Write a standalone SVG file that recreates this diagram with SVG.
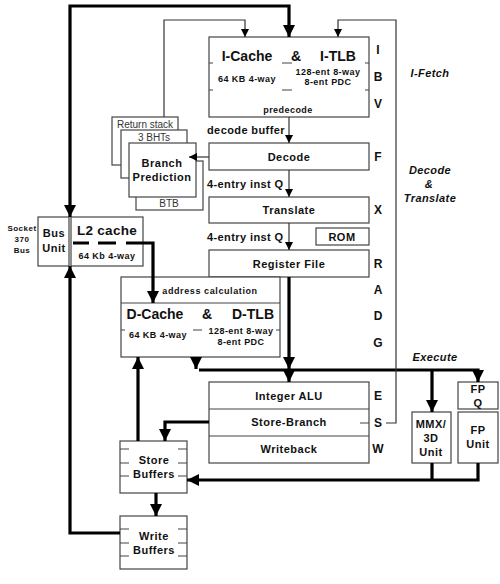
<svg xmlns="http://www.w3.org/2000/svg" width="500" height="584" viewBox="0 0 500 584">
<defs>
<marker id="ah" markerUnits="userSpaceOnUse" markerWidth="12" markerHeight="12" viewBox="0 0 12 12" refX="12" refY="6" orient="auto-start-reverse"><path d="M0,0 L12,6 L0,12 z" fill="#000"/></marker>
<marker id="as" markerUnits="userSpaceOnUse" markerWidth="8" markerHeight="8" viewBox="0 0 8 8" refX="8" refY="4" orient="auto-start-reverse"><path d="M0,0 L8,4 L0,8 z" fill="#000"/></marker>
<style>
.box{fill:#fff;stroke:#444;stroke-width:1.2}
.tk{stroke:#444;stroke-width:1.2;fill:none}
.thick{fill:none;stroke:#000;stroke-width:3.2}
.thin{fill:none;stroke:#333;stroke-width:1.2}
text{font-family:"Liberation Sans",Arial,sans-serif;fill:#111;font-weight:bold}
.big{font-size:14px;text-anchor:middle}
.mid{font-size:11px;text-anchor:middle;letter-spacing:0.5px}
.lab{font-size:11px;letter-spacing:0.4px}
.sm{font-size:9px;text-anchor:middle;letter-spacing:0.45px}
.st{font-size:12px;text-anchor:middle}
.it{font-size:11px;text-anchor:middle;font-style:italic;letter-spacing:0.4px}
.rg{font-size:10px;text-anchor:middle;font-weight:normal;fill:#333}
</style>
</defs>

<g id="icache">
<rect class="box" x="209" y="37" width="160" height="80"/>
<path class="tk" d="M209,63 h4 M209,90 h4 M282,63 h10 M282,90 h10 M365,63 h4 M365,90 h4"/>
<text class="big" x="247" y="61">I-Cache</text>
<text class="big" x="296" y="61">&amp;</text>
<text class="big" x="338" y="61">I-TLB</text>
<text class="sm" x="247" y="82">64 KB 4-way</text>
<text class="sm" x="328" y="75">128-ent 8-way</text>
<text class="sm" x="328" y="85">8-ent PDC</text>
<text class="sm" x="288" y="113">predecode</text>
</g>

<g id="stages">
<text class="st" x="378" y="54">I</text>
<text class="st" x="378" y="81">B</text>
<text class="st" x="378" y="108">V</text>
<text class="st" x="378" y="161">F</text>
<text class="st" x="378" y="214">X</text>
<text class="st" x="378" y="268">R</text>
<text class="st" x="378" y="294">A</text>
<text class="st" x="378" y="320">D</text>
<text class="st" x="378" y="347">G</text>
<text class="st" x="378" y="400">E</text>
<text class="st" x="378" y="427">S</text>
<text class="st" x="378" y="453">W</text>
<text class="it" x="430" y="77">I-Fetch</text>
<text class="it" x="430" y="174">Decode</text>
<text class="it" x="429" y="188">&amp;</text>
<text class="it" x="430" y="202">Translate</text>
<text class="it" x="435" y="361">Execute</text>
</g>

<g id="labels">
<text class="lab" x="207" y="134">decode buffer</text>
<text class="lab" x="207" y="188">4-entry inst Q</text>
<text class="lab" x="207" y="241">4-entry inst Q</text>
</g>

<g id="decode">
<rect class="box" x="209" y="143" width="160" height="27"/>
<text class="mid" x="289" y="161">Decode</text>
</g>
<g id="translate">
<rect class="box" x="209" y="197" width="160" height="26"/>
<text class="mid" x="289" y="214">Translate</text>
</g>
<g id="rom">
<rect class="box" x="316" y="228" width="53" height="17"/>
<text class="mid" x="342" y="240.5">ROM</text>
</g>
<g id="regfile">
<rect class="box" x="209" y="250" width="160" height="27"/>
<text class="mid" x="289" y="268">Register File</text>
</g>

<g id="branch">
<rect class="box" x="112" y="117" width="66" height="48"/>
<text class="rg" x="145" y="128">Return stack</text>
<rect class="box" x="121" y="130" width="66" height="48"/>
<text class="rg" x="154" y="141">3 BHTs</text>
<rect class="box" x="136" y="161" width="67" height="49"/>
<text class="rg" x="169" y="207">BTB</text>
<rect class="box" x="129" y="143" width="67" height="54"/>
<text class="mid" x="162" y="167">Branch</text>
<text class="mid" x="162" y="181">Prediction</text>
</g>

<g id="busunit">
<rect class="box" x="38" y="217" width="31" height="49"/>
<text class="mid" x="54" y="237">Bus</text>
<text class="mid" x="54" y="252">Unit</text>
<text style="font-size:8px;text-anchor:middle;letter-spacing:0.5px" x="22" y="231">Socket</text>
<text style="font-size:8px;text-anchor:middle;letter-spacing:0.5px" x="22" y="242">370</text>
<text style="font-size:8px;text-anchor:middle;letter-spacing:0.5px" x="22" y="253">Bus</text>
</g>

<g id="l2cache">
<rect class="box" x="71" y="217" width="72" height="49"/>
<text class="big" x="107" y="235" style="font-size:13.5px;letter-spacing:0.3px">L2 cache</text>
<text class="sm" x="107" y="259">64 Kb 4-way</text>
</g>

<g id="dcache">
<rect class="box" x="121" y="277" width="159" height="80"/>
<line class="tk" x1="121" y1="303" x2="280" y2="303"/>
<path class="tk" d="M121,330 h4 M193,330 h9 M276,330 h4"/>
<text class="sm" x="210" y="294" style="letter-spacing:0.6px">address calculation</text>
<text class="big" x="155" y="319">D-Cache</text>
<text class="big" x="207" y="319">&amp;</text>
<text class="big" x="253" y="319">D-TLB</text>
<text class="sm" x="158" y="338">64 KB 4-way</text>
<text class="sm" x="241" y="334">128-ent 8-way</text>
<text class="sm" x="241" y="345">8-ent PDC</text>
</g>

<g id="execunit">
<rect class="box" x="209" y="382" width="160" height="81"/>
<path class="tk" d="M209,409 H369 M209,436 H369 M360,423 H369"/>
<text class="mid" x="289" y="400">Integer ALU</text>
<text class="mid" x="289" y="426">Store-Branch</text>
<text class="mid" x="289" y="453">Writeback</text>
</g>

<g id="mmx">
<rect class="box" x="412" y="412" width="39" height="51"/>
<text class="mid" x="431" y="428">MMX/</text>
<text class="mid" x="431" y="442">3D</text>
<text class="mid" x="431" y="456">Unit</text>
</g>
<g id="fpq">
<rect class="box" x="458" y="382" width="40" height="27"/>
<text class="mid" x="478" y="393">FP</text>
<text class="mid" x="478" y="407">Q</text>
</g>
<g id="fpunit">
<rect class="box" x="458" y="412" width="40" height="51"/>
<text class="mid" x="478" y="434">FP</text>
<text class="mid" x="478" y="448">Unit</text>
</g>

<g id="storebuf">
<rect class="box" x="120" y="441" width="67" height="52"/>
<path class="tk" d="M120,449 h9 M120,463 h9 M120,476 h9 M178,449 h9 M178,463 h9 M178,476 h9"/>
<text class="mid" x="154" y="464">Store</text>
<text class="mid" x="154" y="478">Buffers</text>
</g>
<g id="writebuf">
<rect class="box" x="120" y="516" width="67" height="53"/>
<path class="tk" d="M120,529 h9 M120,543 h9 M120,556 h9 M178,529 h9 M178,543 h9 M178,556 h9"/>
<text class="mid" x="154" y="540">Write</text>
<text class="mid" x="154" y="554">Buffers</text>
</g>

<g id="connectors">
<path class="thick" d="M70,217 V6 H289 V37" marker-start="url(#ah)" marker-end="url(#ah)"/>
<path class="thick" d="M70,266 V533 H120" marker-start="url(#ah)"/>
<path class="thick" d="M73,243 H153 V303" stroke-dasharray="16 9 18 10 300" marker-end="url(#ah)"/>
<path class="thick" d="M289,277 V369" marker-end="url(#ah)"/>
<path class="thick" d="M289,370 V382" marker-end="url(#ah)"/>
<path class="thick" d="M196,357 V369" marker-end="url(#ah)"/>
<path class="thick" d="M199,370 H478 V382" marker-end="url(#ah)"/>
<path class="thick" d="M432,370 V412" marker-end="url(#ah)"/>
<path class="thick" d="M138,441 V357" marker-end="url(#ah)"/>
<path class="thick" d="M209,422 H165 V441" marker-end="url(#ah)"/>
<path class="thick" d="M478,463 V480 H187" marker-end="url(#ah)"/>
<path class="thick" d="M432,463 V480"/>
<path class="thick" d="M156,493 V516" marker-end="url(#ah)"/>
<path class="thin" d="M164,117 V20 H245 V37" marker-end="url(#as)"/>
<path class="thin" d="M386,423 H396 V20 H338 V37" marker-end="url(#as)"/>
<path class="thin" d="M209,157 H189" marker-end="url(#as)"/>
<path class="thin" d="M289,117 V143" marker-end="url(#as)"/>
<path class="thin" d="M289,170 V197" marker-end="url(#as)"/>
<path class="thin" d="M289,223 V250" marker-end="url(#as)"/>
</g>
</svg>
